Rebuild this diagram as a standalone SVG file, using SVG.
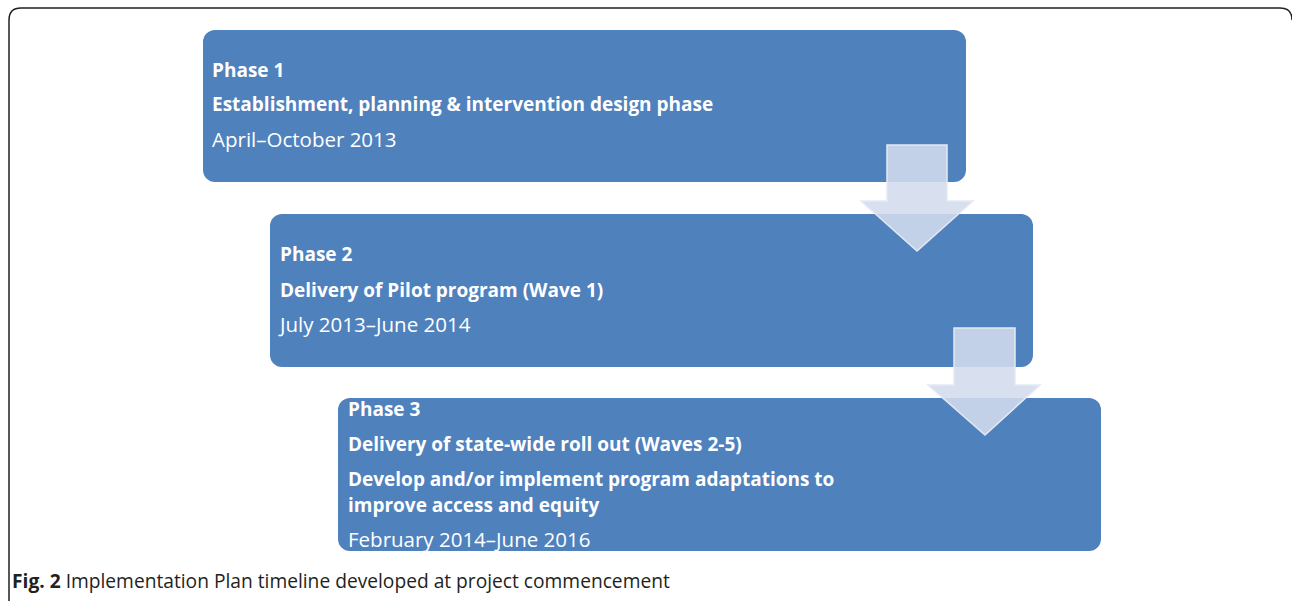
<svg xmlns="http://www.w3.org/2000/svg" width="1292" height="601" viewBox="0 0 1292 601">
<style>
.box{fill:#4f81bd;}
.t{font-family:"Open Sans","Liberation Sans",sans-serif;font-size:19px;fill:#ffffff;}
.b{font-weight:bold;}
.n{font-size:20.5px;}
.arr{fill:#d3dcee;fill-opacity:0.88;stroke:#e4e9f4;stroke-width:1.5;}
.cap{font-family:"Open Sans","Liberation Sans",sans-serif;font-size:19.2px;fill:#231f20;}
</style>
<rect width="1292" height="601" fill="#ffffff"/>
<path d="M9,610 V20 Q9,8 21,8 H1280 Q1292,8 1292,20" fill="none" stroke="#231f20" stroke-width="1.5"/>
<g id="phase1">
<rect class="box" x="203" y="30" width="763" height="152" rx="12"/>
<text class="t b" x="212" y="77">Phase 1</text>
<text class="t b" x="212" y="111">Establishment, planning &amp; intervention design phase</text>
<text class="t n" x="212" y="147">April–October 2013</text>
</g>
<g id="phase2">
<rect class="box" x="270" y="214" width="763" height="153" rx="12"/>
<text class="t b" x="280" y="261">Phase 2</text>
<text class="t b" x="280" y="297">Delivery of Pilot program (Wave 1)</text>
<text class="t n" x="280" y="332">July 2013–June 2014</text>
</g>
<g id="phase3">
<rect class="box" x="338" y="398" width="763" height="153" rx="12"/>
<text class="t b" x="348" y="416">Phase 3</text>
<text class="t b" x="348" y="451">Delivery of state-wide roll out (Waves 2-5)</text>
<text class="t b" x="348" y="486">Develop and/or implement program adaptations to</text>
<text class="t b" x="348" y="512">improve access and equity</text>
<text class="t n" x="348" y="547">February 2014–June 2016</text>
</g>
<g id="connectors">
<path class="arr" d="M887,145 H947 V201 H973 L917,251 L861,201 H887 Z"/>
<path class="arr" d="M954,328 H1015 V385 H1040 L985,435 L928,385 H954 Z"/>
</g>
<g id="caption">
<text class="cap" x="12" y="588"><tspan font-weight="bold">Fig. 2</tspan> Implementation Plan timeline developed at project commencement</text>
</g>
</svg>
